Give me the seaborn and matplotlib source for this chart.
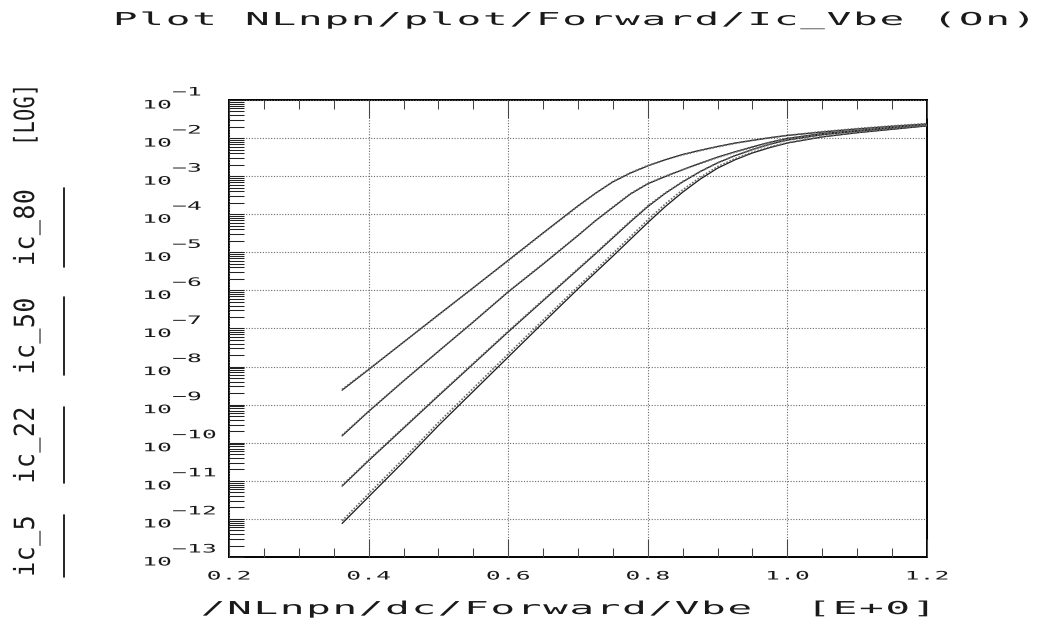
import numpy as np
import pandas as pd
import matplotlib
matplotlib.use("Agg")
import matplotlib.pyplot as plt
from matplotlib.lines import Line2D
from matplotlib.path import Path
from matplotlib.patheffects import AbstractPathEffect
from matplotlib.ticker import FixedLocator, LogLocator, MultipleLocator, NullFormatter
from matplotlib.transforms import ScaledTranslation
import seaborn as sns

# ---- data: collector current (log10 A) against base-emitter voltage ----
vbe = [0.362, 0.40, 0.45, 0.50, 0.55, 0.60, 0.65, 0.70, 0.725, 0.75, 0.775, 0.80,
       0.825, 0.85, 0.875, 0.90, 0.925, 0.95, 0.975, 1.00, 1.05, 1.10, 1.15, 1.20]

ic_80_meas = [-8.62, -8.08, -7.36, -6.64, -5.93, -5.21, -4.49, -3.78, -3.45, -3.15, -2.92, -2.73,
              -2.57, -2.43, -2.32, -2.22, -2.13, -2.06, -1.99, -1.93, -1.84, -1.76, -1.69, -1.63]
ic_80_sim = [-8.60, -8.07, -7.36, -6.65, -5.93, -5.22, -4.50, -3.79, -3.45, -3.14, -2.91, -2.72,
             -2.57, -2.44, -2.33, -2.23, -2.14, -2.06, -1.99, -1.93, -1.83, -1.75, -1.68, -1.62]

ic_50_meas = [-9.82, -9.18, -8.38, -7.60, -6.83, -6.04, -5.31, -4.56, -4.17, -3.82, -3.47, -3.20,
              -3.01, -2.83, -2.66, -2.50, -2.36, -2.23, -2.11, -2.01, -1.88, -1.80, -1.72, -1.65]
ic_50_sim = [-9.80, -9.17, -8.37, -7.60, -6.82, -6.03, -5.30, -4.55, -4.17, -3.81, -3.46, -3.19,
             -3.00, -2.83, -2.67, -2.51, -2.37, -2.24, -2.11, -2.01, -1.88, -1.79, -1.71, -1.64]

ic_22_meas = [-11.14, -10.47, -9.62, -8.77, -7.93, -7.09, -6.27, -5.45, -5.04, -4.62, -4.20, -3.80,
              -3.45, -3.15, -2.88, -2.65, -2.46, -2.30, -2.16, -2.05, -1.91, -1.82, -1.74, -1.67]
ic_22_sim = [-11.12, -10.45, -9.60, -8.75, -7.91, -7.07, -6.25, -5.43, -5.02, -4.60, -4.18, -3.78,
             -3.44, -3.14, -2.88, -2.65, -2.46, -2.30, -2.16, -2.05, -1.91, -1.81, -1.73, -1.66]

ic_5_meas = [-12.12, -11.42, -10.50, -9.55, -8.65, -7.75, -6.85, -5.96, -5.53, -5.10, -4.66, -4.22,
             -3.80, -3.42, -3.08, -2.79, -2.57, -2.39, -2.25, -2.13, -1.97, -1.86, -1.77, -1.68]
ic_5_sim = [-12.05, -11.34, -10.42, -9.47, -8.57, -7.67, -6.78, -5.90, -5.47, -5.03, -4.59, -4.15,
            -3.73, -3.36, -3.03, -2.75, -2.54, -2.37, -2.23, -2.12, -1.96, -1.85, -1.76, -1.67]

devices = ["ic_80", "ic_50", "ic_22", "ic_5"]
measured = [ic_80_meas, ic_50_meas, ic_22_meas, ic_5_meas]
simulated = [ic_80_sim, ic_50_sim, ic_22_sim, ic_5_sim]

x_ticks = [0.2, 0.4, 0.6, 0.8, 1.0, 1.2]
x_tick_labels = ["0.2", "0.4", "0.6", "0.8", "1.0", "1.2"]
y_exponents = list(range(-1, -14, -1))
title_text = "Plot NLnpn/plot/Forward/Ic_Vbe (On)"
x_label_text = "/NLnpn/dc/Forward/Vbe  [E+0]"
y_scale_text = "[LOG]"

# ---- long-form table for seaborn ----
rows = []
for name, m, s in zip(devices, measured, simulated):
    for v, a, b in zip(vbe, m, s):
        rows.append((name, "meas", v, 10.0 ** a))
        rows.append((name, "sim", v, 10.0 ** b))
df = pd.DataFrame(rows, columns=["device", "kind", "vbe", "ic"])


class WideGlyphs(AbstractPathEffect):
    """Spread monospace glyphs onto a wider pitch, like a pen-plotter font."""
    ADV = 60.2  # DejaVu Sans Mono advance in text-path units (em = 100)

    def __init__(self, pitch=2.0, sx=1.6, sy=1.0, anchor=0.0):
        super().__init__()
        self.pitch, self.sx, self.sy, self.anchor = pitch, sx, sy, anchor

    def draw_path(self, renderer, gc, tpath, affine, rgbFace=None):
        codes = tpath.codes
        verts = np.array(tpath.vertices, dtype=float)
        if codes is None or len(verts) == 0:
            renderer.draw_path(gc, tpath, affine, rgbFace)
            return
        adv = self.ADV
        starts = np.flatnonzero(codes == Path.MOVETO)
        ends = np.append(starts[1:], len(verts))
        ncell = 0
        for s, e in zip(starts, ends):
            real = codes[s:e] != Path.CLOSEPOLY
            xs = verts[s:e, 0].copy()
            if not real.any():
                continue
            mid = 0.5 * (xs[real].min() + xs[real].max())
            cell = np.floor(mid / adv)
            ncell = max(ncell, cell + 1)
            c_old = (cell + 0.5) * adv
            verts[s:e, 0] = c_old * self.pitch + (xs - c_old) * self.sx
        verts[:, 1] *= self.sy
        verts[:, 0] -= self.anchor * ncell * adv * (self.pitch - 1.0)
        renderer.draw_path(gc, Path(verts, codes), affine, rgbFace)


sns.set_style("white")
plt.rcParams["font.family"] = ["DejaVu Sans Mono"]

W, H = 1044, 629
fig = plt.figure(figsize=(W / 100, H / 100), dpi=100)
ax = fig.add_axes([229 / W, 1 - 557 / H, 698 / W, 457 / H])

text_color = "#1a1a1a"
grid_kw = dict(color="#6a6a6a", linewidth=0.8, linestyle=(0, (1, 1.5)))
ax.set_yscale("log")
ax.set_xlim(0.2, 1.2)
ax.set_ylim(1e-13, 1e-1)

# measured (solid) and simulated (dotted) curves
for name in devices:
    sub = df[df.device == name]
    sns.lineplot(data=sub[sub.kind == "meas"], x="vbe", y="ic", ax=ax, color="#1a1a1a",
                 linewidth=0.9, estimator=None, sort=False, legend=False, zorder=3)
    sns.lineplot(data=sub[sub.kind == "sim"], x="vbe", y="ic", ax=ax, color="#6a6a6a",
                 linewidth=1.2, linestyle=(0, (1, 1)), estimator=None, sort=False,
                 legend=False, zorder=4)

# axes frame
for sp in ax.spines.values():
    sp.set_color("black")
    sp.set_linewidth(1.4)

# x axis: major every 0.2, minor every 0.05, ticks inside on top and bottom
ax.xaxis.set_major_locator(FixedLocator(x_ticks))
ax.xaxis.set_minor_locator(MultipleLocator(0.05))
ax.set_xticklabels(x_tick_labels)
ax.tick_params(axis="x", which="both", direction="in", top=True, bottom=True,
               color="#444444", width=0.75, labelsize=8.4, pad=9, labelcolor=text_color)
ax.tick_params(axis="x", which="major", length=13)
ax.tick_params(axis="x", which="minor", length=6.5)

# y axis: decades with log minor ticks on the left
ax.yaxis.set_major_locator(FixedLocator([10.0 ** e for e in y_exponents]))
ax.yaxis.set_minor_locator(LogLocator(base=10, subs=np.arange(2, 10), numticks=200))
ax.yaxis.set_minor_formatter(NullFormatter())
ax.set_yticklabels([f"  \u2212{-e}\n10" for e in y_exponents])
ax.tick_params(axis="y", which="both", direction="in", left=True, right=False,
               color="#222222", width=0.75, length=10.8, labelsize=8.4, pad=62.6,
               labelcolor=text_color)

ax.grid(True, which="major", axis="both", **grid_kw)
ax.set_axisbelow(False)

for lab in ax.get_xticklabels():
    lab.set_path_effects([WideGlyphs(pitch=2.13, sx=2.1, sy=1.0, anchor=0.5)])
# the mantissa line sits just under its decade line, the exponent just above
drop_base = ScaledTranslation(0, -8.5 / 100, fig.dpi_scale_trans)
for lab in ax.get_yticklabels():
    lab.set_horizontalalignment("left")
    lab.set_verticalalignment("baseline")
    lab.set_multialignment("left")
    lab.set_linespacing(1.0)
    lab.set_transform(lab.get_transform() + drop_base)
    lab.set_path_effects([WideGlyphs(pitch=2.13, sx=2.1, sy=1.0, anchor=0.0)])

ax.set_xlabel("")
ax.set_ylabel("")

# title and axis caption in the wide plotter lettering
fig.text(112 / W, 1 - 25 / H, title_text, ha="left", va="baseline", fontsize=12.8,
         color=text_color, path_effects=[WideGlyphs(pitch=2.47, sx=2.3, sy=1.0)])
fig.text(200 / W, 1 - 614 / H, x_label_text, ha="left", va="baseline", fontsize=12.8,
         color=text_color, path_effects=[WideGlyphs(pitch=2.46, sx=2.3, sy=1.0)])

# rotated scale tag and the curve key on the left margin
fig.text(34 / W, 1 - 146 / H, y_scale_text, rotation=90, rotation_mode="anchor",
         ha="left", va="baseline", fontsize=10, color=text_color,
         path_effects=[WideGlyphs(pitch=1.49, sx=1.45, sy=2.0)])

key_spans = [(188, 267), (297, 375), (407, 483), (515, 577)]
for name, (y0, y1) in zip(devices, key_spans):
    fig.add_artist(Line2D([64 / W, 64 / W], [1 - y0 / H, 1 - y1 / H],
                          transform=fig.transFigure, color="black", linewidth=1.2))
    length = len(name) * 15.5
    start = 0.5 * (y0 + y1) + 0.5 * length
    fig.text(34 / W, 1 - start / H, name, rotation=90, rotation_mode="anchor",
             ha="left", va="baseline", fontsize=10, color=text_color,
             path_effects=[WideGlyphs(pitch=1.85, sx=1.8, sy=2.0)])

fig.savefig("out.png", dpi=100)
